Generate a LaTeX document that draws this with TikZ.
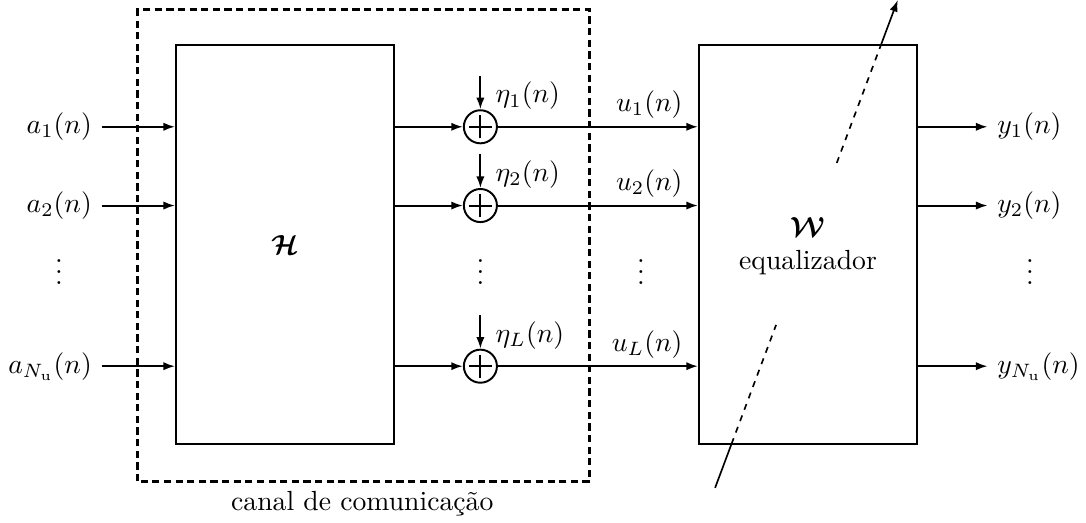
\documentclass[tikz,border=0pt]{standalone}
\usepackage{amsmath}
\usetikzlibrary{arrows.meta,calc,positioning}

\begin{document}
\begin{tikzpicture}[
  line join=miter,
  sig/.style={-{Latex[length=4.2pt,width=3pt]}, line width=0.7pt},
  block/.style={draw, line width=0.7pt, minimum width=2.77cm, minimum height=5.07cm, inner sep=0pt},
  adder/.style={draw, circle, line width=0.7pt, minimum size=0.42cm, inner sep=0pt,
    path picture={
      \draw[line width=0.7pt]
        ([xshift=-0.146cm]path picture bounding box.center) -- ([xshift=0.146cm]path picture bounding box.center)
        ([yshift=-0.146cm]path picture bounding box.center) -- ([yshift=0.146cm]path picture bounding box.center);
    }},
  channel/.style={draw, line width=1pt, dash pattern=on 2.6pt off 1.6pt},
  adapt/.style={line width=0.6pt},
  adaptdash/.style={line width=0.6pt, dash pattern=on 2.2pt off 2.2pt}
]

\def\rowA{5.03}
\def\rowB{4.03}
\def\rowL{1.99}
\def\rowD{3.29}

\useasboundingbox (0,0) rectangle (13.79,6.64);

% Channel and equalizer blocks.
\draw[channel] (1.75,0.53) rectangle (7.49,6.515);
\node (chanLabel) at (4.60,0.25) {canal de comunicação};
\node[block] (hbox) at (3.62,3.535) {$\boldsymbol{\mathcal{H}}$};
\node[block] (wbox) at (10.26,3.535) {};
\node (wsym) at (10.26,3.76) {$\boldsymbol{\mathcal{W}}$};
\node (wtxt) at (10.26,3.30) {equalizador};

% Signal rows.
\foreach \nm/\y/\k/\ksub in {A/\rowA/1/1, B/\rowB/2/2, L/\rowL/L/{N_\mathrm{u}}}{
  \node[anchor=east] (in\nm) at (1.29,\y) {$a_{\ksub}(n)$};
  \draw[sig] (in\nm.east) -- (hbox.west |- in\nm.east);
  \node[adder] (sum\nm) at (6.10,\y) {};
  \draw[sig] (hbox.east |- sum\nm) -- (sum\nm.west);
  \coordinate (noise\nm) at (6.10,\y+0.65);
  \draw[sig] (noise\nm) -- (sum\nm.north);
  \node[anchor=west] (eta\nm) at (6.17,\y+0.39) {$\eta_{\k}(n)$};
  \draw[sig] (sum\nm.east) -- (wbox.west |- sum\nm);
  \node[anchor=east] (u\nm) at (8.79,\y+0.28) {$u_{\k}(n)$};
  \node[anchor=west] (out\nm) at (12.54,\y) {$y_{\ksub}(n)$};
  \draw[sig] (wbox.east |- out\nm.west) -- (out\nm.west);
}

% Vertical dots.
\foreach \x in {0.75,6.10,8.14,13.08}{
  \node at (\x,\rowD) {$\vdots$};
}

% Adaptation arrow through the equalizer.
\coordinate (adjS) at (9.08,0.445);
\coordinate (adjE) at (11.40,6.64);
\draw[adapt] (adjS) -- ($(adjS)!0.09!(adjE)$);
\draw[adaptdash] ($(adjS)!0.09!(adjE)$) -- ($(adjS)!0.334!(adjE)$);
\draw[adaptdash] ($(adjS)!0.666!(adjE)$) -- ($(adjS)!0.908!(adjE)$);
\draw[sig, line width=0.6pt] ($(adjS)!0.908!(adjE)$) -- (adjE);

\end{tikzpicture}
\end{document}
